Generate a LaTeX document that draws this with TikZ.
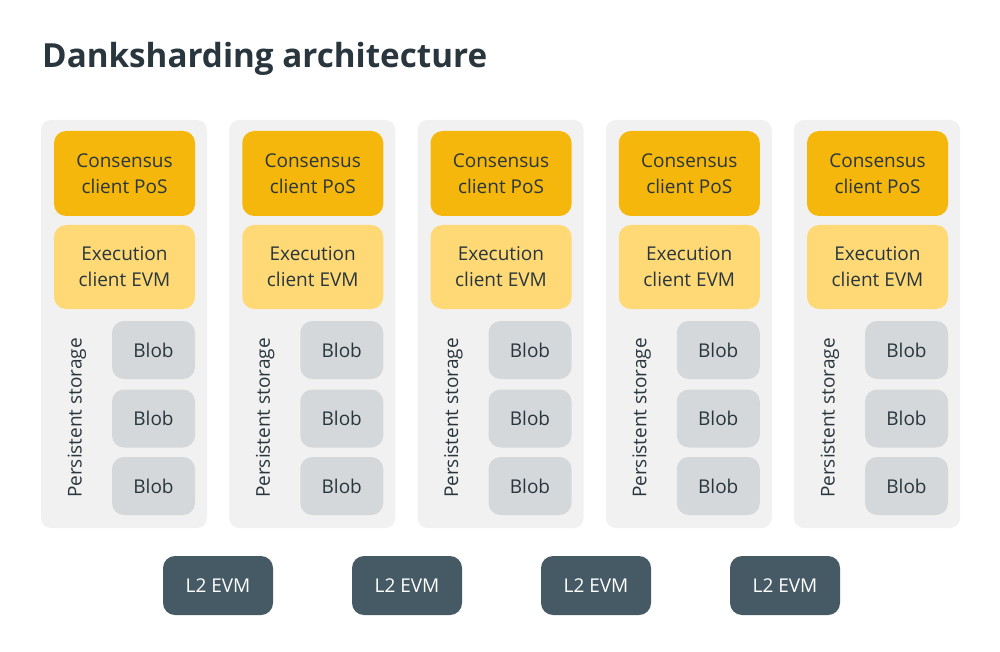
\documentclass[tikz,border=0pt]{standalone}
\usepackage{fontspec}
\setmainfont{Open Sans}
\definecolor{panelc}{HTML}{F1F1F1}
\definecolor{consc}{HTML}{F5B70C}
\definecolor{execc}{HTML}{FED975}
\definecolor{blobc}{HTML}{D4D8DB}
\definecolor{l2c}{HTML}{465A65}
\definecolor{txtc}{HTML}{29363D}
\tikzset{
  panel/.style={fill=panelc, draw=none, rounded corners=10pt, minimum width=166pt, minimum height=408pt, inner sep=0pt},
  box/.style={draw=none, rounded corners=12pt, inner sep=0pt, align=center, text=txtc, font=\fontsize{19}{26}\selectfont},
  consbox/.style={box, fill=consc, minimum width=141pt, minimum height=85pt},
  execbox/.style={box, fill=execc, minimum width=141pt, minimum height=84pt},
  blobbox/.style={box, fill=blobc, minimum width=83pt, minimum height=58pt},
  storelabel/.style={rotate=90, text=txtc, font=\fontsize{19}{26}\selectfont, inner sep=0pt},
  l2box/.style={draw=none, rounded corners=12pt, fill=l2c, text=white, minimum width=110pt, minimum height=59pt, inner sep=0pt, font=\fontsize{19}{24}\selectfont},
  titlestyle/.style={anchor=base west, inner sep=0pt, text=txtc, font=\fontsize{33.2}{38}\selectfont\bfseries}
}
\begin{document}
\begin{tikzpicture}[x=1pt,y=-1pt]
\path[fill=white] (0,0) rectangle (1000,652);
\useasboundingbox (0,0) rectangle (1000,652);
\node[titlestyle] (title) at (42,68) {Danksharding architecture};
\foreach \i in {1,...,5}{
  \pgfmathsetmacro{\L}{41+188.25*(\i-1)}
  \node[panel] (panel\i) at (\L+83,324) {};
  \node[consbox] (cons\i) at (\L+83.5,173.5) {Consensus\\client PoS};
  \node[execbox] (exec\i) at (\L+83.5,267) {Execution\\client EVM};
  \node[blobbox] (blobA\i) at (\L+112.5,350) {Blob};
  \node[blobbox] (blobB\i) at (\L+112.5,418.5) {Blob};
  \node[blobbox] (blobC\i) at (\L+112.5,486) {Blob};
  \node[storelabel] (store\i) at (\L+36,418) {Persistent storage};
}
\foreach \j in {1,...,4}{
  \node[l2box] (l2\j) at (218+189*\j-189,585.5) {L2 EVM};
}
\end{tikzpicture}
\end{document}
